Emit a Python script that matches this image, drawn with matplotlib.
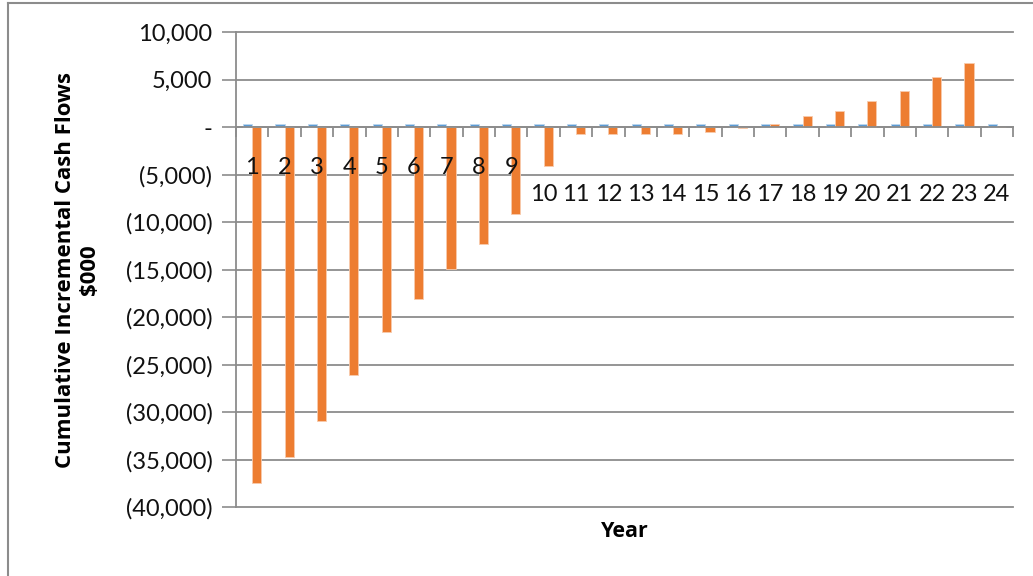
import numpy as np
import matplotlib
matplotlib.use("Agg")
import matplotlib.pyplot as plt
from matplotlib.lines import Line2D
from matplotlib.ticker import FuncFormatter

plt.rcParams['font.family'] = ['Lato', 'DejaVu Sans']

years = np.arange(1, 25)
series_a = [300] * 24  # small blue series
cum_flows = [-37500, -34700, -30900, -26100, -21550, -18150, -14950, -12300,
             -9150, -4100, -750, -750, -700, -700, -530, -150, 300, 1200,
             1720, 2770, 3820, 5300, 6770, 0]
y_ticks = np.arange(-40000, 10001, 5000)

blue = "#5B9BD5"
orange = "#ED7D31"
grid_c = "#8C8C8C"

fig = plt.figure(figsize=(10.33, 5.76), dpi=100)
ax = fig.add_axes([236/1033, 1-507/576, (1013-236)/1033, 475/576])

w = 0.28
ax.bar(years - 0.14, series_a, w, color=blue, edgecolor="#BDD7EE", linewidth=0.6, zorder=3)
ax.bar(years + 0.14, cum_flows, w, color=orange, edgecolor="#F8CBAD", linewidth=0.6, zorder=3)

ax.set_xlim(0.5, 24.5)
ax.set_ylim(-40000, 10000)
ax.set_yticks(y_ticks)

def fmt(v, pos):
    if v == 0:
        return "-"
    if v < 0:
        return "({:,.0f})".format(-v)
    return "{:,.0f}".format(v)

ax.yaxis.set_major_formatter(FuncFormatter(fmt))
ax.tick_params(axis='y', direction='out', length=10, width=1.2, color=grid_c,
               labelsize=17, pad=7, labelcolor="#111111")
ax.yaxis.grid(True, color=grid_c, linewidth=1.3, zorder=0)
for g in ax.get_ygridlines():
    g.set_clip_on(False)

# category axis sits at zero, ticks between categories
ax.spines['bottom'].set_position(('data', 0))
ax.spines['bottom'].set_color(grid_c)
ax.spines['bottom'].set_linewidth(1.3)
ax.spines['bottom'].set_zorder(4)
ax.spines['left'].set_color(grid_c)
ax.spines['left'].set_linewidth(1.3)
ax.spines['top'].set_visible(False)
ax.spines['right'].set_visible(False)
ax.set_xticks(np.arange(0.5, 25, 1))
ax.set_xticklabels([])
ax.tick_params(axis='x', direction='out', length=7, width=1.3, color=grid_c)

for yr in years:
    yy = -4300 if yr < 10 else -7150
    ax.text(yr, yy, str(yr), ha='center', va='center', fontsize=17, color="#111111")

ax.set_xlabel("Year", fontsize=15.5, fontweight='bold', family='Open Sans', labelpad=0)
ax.xaxis.set_label_coords(0.5, -0.03)
ax.set_ylabel("Cumulative Incremental Cash Flows\n$000", fontsize=16, family='Open Sans',
              fontweight='bold', linespacing=1.2)
ax.yaxis.set_label_coords(-0.175, 0.5)

# outer chart frame (left and top edges visible)
fig.add_artist(Line2D([8/1033, 8/1033], [-0.1, 1-3/576], color="#8C8C8C", linewidth=1.5,
                      transform=fig.transFigure))
fig.add_artist(Line2D([8/1033, 1.1], [1-3/576, 1-3/576], color="#8C8C8C", linewidth=1.5,
                      transform=fig.transFigure))

fig.savefig("out.png", dpi=100)
